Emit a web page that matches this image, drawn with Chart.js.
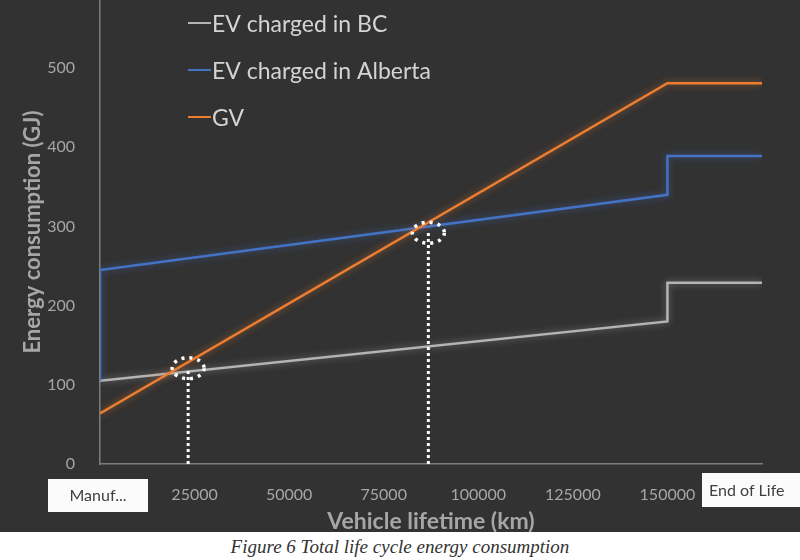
<!DOCTYPE html>
<html>
<head>
<meta charset="utf-8">
<script src="https://cdn.jsdelivr.net/npm/chart.js@4.4.1/dist/chart.umd.min.js"></script>
<style>
  html, body { margin:0; padding:0; background:#fff; }
  #wrap { width:800px; height:532px; background:#323232; position:relative; }
  #caption { width:800px; height:28px; text-align:center; font:italic 19px "Liberation Serif", serif; color:#333; line-height:30px; }
</style>
</head>
<body>
<div id="wrap"><canvas id="c" width="800" height="532"></canvas></div>
<div id="caption">Figure 6 Total life cycle energy consumption</div>
<script>
// data (km, GJ)
const bcKm = [0, 150000, 150000, 175000];
const bcGJ = [105, 180, 229, 229];
const abKm = [0, 0, 150000, 150000, 175000];
const abGJ = [105, 245, 340, 389, 389];
const gvKm = [0, 150000, 175000];
const gvGJ = [64, 481, 481];
// where the lines cross (dotted markers)
const crossKm = [23300, 86800];
const crossGJ = [121, 292];
const xTicks = [0, 25000, 50000, 75000, 100000, 125000, 150000, 175000];
const xTickLabels = ["Manuf...", "25000", "50000", "75000", "100000", "125000", "150000", "End of Life"];
const yTicks = [0, 100, 200, 300, 400, 500];

const pts = (xs, ys) => xs.map((x, i) => ({ x, y: ys[i] }));

const TXT = "#a6a6a6";

// glow under the lines
const glow = {
  id: "glow",
  beforeDatasetDraw(chart, args) {
    const ds = chart.data.datasets[args.index];
    if (!ds.glow) return;
    chart.ctx.save();
    chart.ctx.shadowColor = ds.glow;
    chart.ctx.shadowBlur = 7;
  },
  afterDatasetDraw(chart, args) {
    if (chart.data.datasets[args.index].glow) chart.ctx.restore();
  }
};

// dotted ellipses round the crossings
const rings = {
  id: "rings",
  afterDatasetsDraw(chart) {
    const { ctx, scales: { x, y } } = chart;
    ctx.save();
    ctx.strokeStyle = "#ffffff";
    ctx.lineWidth = 3.5;
    ctx.setLineDash([3, 5]);
    crossKm.forEach((km, i) => {
      ctx.beginPath();
      ctx.ellipse(x.getPixelForValue(km), y.getPixelForValue(crossGJ[i]), 16, 10.5, 0, 0, Math.PI * 2);
      ctx.stroke();
    });
    ctx.restore();
  }
};

// legend + boxed end labels
const extras = {
  id: "extras",
  afterDraw(chart) {
    const { ctx, scales: { x } } = chart;
    ctx.save();
    ctx.textBaseline = "middle";
    ctx.font = "23px Lato";
    [0, 1, 2].forEach((idx, i) => {
      const ds = chart.data.datasets[idx];
      const yy = 23 + i * 47;
      ctx.strokeStyle = ds.borderColor;
      ctx.lineWidth = 2;
      ctx.beginPath(); ctx.moveTo(188, yy); ctx.lineTo(211, yy); ctx.stroke();
      ctx.fillStyle = "#d4d4d4";
      ctx.fillText(ds.label, 212, yy + 2);
    });

    ctx.font = "16px Lato";
    const x0 = x.getPixelForValue(xTicks[0]);
    ctx.fillStyle = "#fbfbfb";
    ctx.fillRect(x0 - 52, 479, 100, 33);
    ctx.fillStyle = "#404040";
    ctx.textAlign = "center";
    ctx.fillText(xTickLabels[0], x0 - 2, 496);

    const x1 = x.getPixelForValue(xTicks[xTicks.length - 1]);
    ctx.fillStyle = "#fbfbfb";
    ctx.fillRect(x1 - 60, 473, 100, 34);
    ctx.fillStyle = "#404040";
    ctx.textAlign = "left";
    ctx.fillText(xTickLabels[xTickLabels.length - 1], x1 - 53, 491);
    ctx.restore();
  }
};

function draw() {
  const markerSets = crossKm.map((km, i) => ({
    data: pts([km, km], [0, crossGJ[i]]),
    borderColor: "#ffffff",
    borderWidth: 3,
    borderDash: [3, 3],
    borderCapStyle: "butt",
    pointRadius: 0,
    order: -1
  }));

  new Chart(document.getElementById("c"), {
    type: "line",
    data: {
      datasets: [
        { label: "EV charged in BC", data: pts(bcKm, bcGJ), borderColor: "#b4b4b4", glow: "rgba(200,200,200,0.5)", order: 2 },
        { label: "EV charged in Alberta", data: pts(abKm, abGJ), borderColor: "#4472c4", glow: "rgba(68,114,196,0.6)", order: 1 },
        { label: "GV", data: pts(gvKm, gvGJ), borderColor: "#ed7d31", glow: "rgba(237,125,49,0.6)", order: 0 },
        ...markerSets
      ]
    },
    options: {
      responsive: false,
      animation: false,
      events: [],
      elements: { line: { borderWidth: 2.5, tension: 0 }, point: { radius: 0 } },
      layout: { padding: { left: 0, right: 38, top: 0, bottom: 0 } },
      plugins: { legend: { display: false }, tooltip: { enabled: false } },
      scales: {
        x: {
          type: "linear",
          min: 0, max: 175000,
          afterBuildTicks: s => { s.ticks = xTicks.map(v => ({ value: v })); },
          afterFit: s => { s.height = 68; s.paddingLeft = 0; s.paddingRight = 0; },
          grid: { display: false },
          border: { color: "#7c7c7c", width: 1.5 },
          ticks: {
            color: TXT, font: { family: "Lato", size: 16 }, padding: 13, maxRotation: 0, autoSkip: false,
            callback: (v, i) => (i === 0 || i === xTicks.length - 1) ? "" : xTickLabels[i]
          },
          title: { display: true, text: "Vehicle lifetime (km)", color: TXT, font: { family: "Lato", size: 23, weight: "bold" }, padding: { top: 0, bottom: -3 } }
        },
        y: {
          min: 0, max: 586,
          afterBuildTicks: s => { s.ticks = yTicks.map(v => ({ value: v })); },
          afterFit: s => { s.width = 100; s.paddingTop = 0; s.paddingBottom = 0; },
          grid: { display: false },
          border: { color: "#7c7c7c", width: 1.5 },
          ticks: { color: TXT, font: { family: "Lato", size: 16 }, padding: 17 },
          title: { display: true, text: "Energy consumption (GJ)", color: TXT, font: { family: "Lato", size: 22, weight: "bold" }, padding: { top: 20, bottom: 0 } }
        }
      }
    },
    plugins: [glow, rings, extras]
  });
}

Promise.all([
  document.fonts.load("16px Lato"),
  document.fonts.load("bold 22px Lato"),
  document.fonts.load("23px Lato")
]).then(draw, draw);
</script>
</body>
</html>
